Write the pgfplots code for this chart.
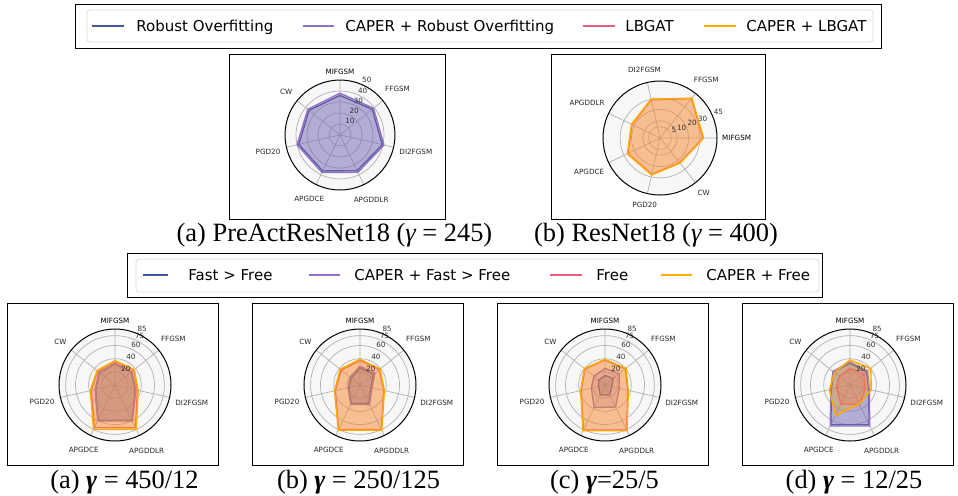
\documentclass[border=0pt]{standalone}
\usepackage{pgfplots}
\pgfplotsset{compat=1.18}
\usepgfplotslibrary{polar}
\usepackage{fontspec}
\setmainfont{Liberation Serif}
\newfontfamily\dejavu{DejaVu Sans}
\definecolor{cblue}{RGB}{70,88,155}
\definecolor{cpurple}{RGB}{148,112,196}
\definecolor{cpink}{RGB}{238,90,120}
\definecolor{corange}{RGB}{255,170,0}
\newcommand{\tinyf}{\dejavu\fontsize{3.6}{4.2}\selectfont}
\newcommand{\legf}{\dejavu\fontsize{7.5}{9}\selectfont}
\newcommand{\capf}{\fontsize{13.2}{15}\selectfont}
\newcommand{\rl}[3]{\node[font=\tinyf, text=black!80, anchor=south west, inner sep=0.4pt] at (axis cs:#1,#2) {#3};}
\pgfplotsset{
  radarbase/.style={
    scale only axis, anchor=center, clip=false,
    axis background/.style={fill=black!3},
    axis line style={black, line width=0.5pt},
    y axis line style={draw=none},
    grid=major, major grid style={black!30, line width=0.35pt},
    tick style={draw=none},
    yticklabels={},
    xticklabel style={font=\tinyf, text=black!85, inner sep=2.4pt},
  },
  radarCW/.style={radarbase,
    xtick={38.571,90,141.429,192.857,244.286,295.714,347.143},
    xticklabels={FFGSM,\textcolor{black}{MIFGSM},CW,PGD20,APGDCE,APGDDLR,DI2FGSM}},
  poly/.style={line width=0.7pt, fill opacity=0.3, draw opacity=1},
}
\begin{document}
\begin{tikzpicture}
\useasboundingbox (0pt,0pt) rectangle (479pt,-247.5pt);

% ---------- top legend ----------
\draw[line width=0.5pt] (37.5pt,-2pt) rectangle (440.5pt,-24pt);
\draw[black!15, rounded corners=1.5pt] (43.5pt,-5pt) rectangle (436.5pt,-21pt);
\draw[cblue, line width=0.75pt] (46pt,-13pt) -- (62pt,-13pt);
\node[font=\legf, anchor=base west, inner sep=0] at (68pt,-15.5pt) {Robust Overfitting};
\draw[cpurple, line width=0.75pt] (151.5pt,-13pt) -- (167pt,-13pt);
\node[font=\legf, anchor=base west, inner sep=0] at (172.5pt,-15.5pt) {CAPER + Robust Overfitting};
\draw[cpink, line width=0.75pt] (291.5pt,-13pt) -- (307.5pt,-13pt);
\node[font=\legf, anchor=base west, inner sep=0] at (312.5pt,-15.5pt) {LBGAT};
\draw[corange, line width=0.75pt] (352pt,-13pt) -- (368pt,-13pt);
\node[font=\legf, anchor=base west, inner sep=0] at (373pt,-15.5pt) {CAPER + LBGAT};

% ---------- top panels ----------
\draw[line width=0.5pt] (114.5pt,-27pt) rectangle (222.5pt,-109.5pt);
\draw[line width=0.5pt] (275.5pt,-27pt) rectangle (382.5pt,-109.5pt);

\begin{polaraxis}[radarCW, at={(170pt,-67.5pt)}, width=55pt, height=55pt,
  ymin=0, ymax=50, ytick={10,20,30,40}]
\addplot[poly, draw=cblue, fill=cblue] coordinates {(90,36) (38.571,37.5) (347.143,39.5) (295.714,36) (244.286,36.3) (192.857,38.5) (141.429,36) (90,36)};
\addplot[poly, draw=cpurple, fill=cpurple] coordinates {(90,38) (38.571,39) (347.143,41) (295.714,37.6) (244.286,37.8) (192.857,40) (141.429,37.5) (90,38)};
\rl{67.5}{10}{10}\rl{67.5}{20}{20}\rl{67.5}{30}{30}\rl{67.5}{40}{40}\rl{67.5}{50}{50}
\end{polaraxis}

\begin{polaraxis}[radarbase, at={(330pt,-69pt)}, width=57pt, height=57pt,
  ymin=0, ymax=50, ytick={10,15,25,35},
  xtick={0,51.429,102.857,154.286,205.714,257.143,308.571},
  xticklabels={\textcolor{black}{MIFGSM},FFGSM,DI2FGSM,APGDDLR,APGDCE,PGD20,CW},
  y filter/.expression={y+5}]
\addplot[poly, draw=cpink, fill=cpink] coordinates {(0,32.8) (51.429,39.2) (102.857,29.4) (154.286,22.3) (205.714,26.3) (257.143,27.7) (308.571,22.7) (0,32.8)};
\addplot[poly, draw=corange, fill=corange] coordinates {(0,33.3) (51.429,39.7) (102.857,29.9) (154.286,22.8) (205.714,26.8) (257.143,28.2) (308.571,23.2) (0,33.3)};
\rl{22.5}{10}{5}\rl{22.5}{15}{10}\rl{22.5}{25}{20}\rl{22.5}{35}{30}\rl{22.5}{50}{45}
\end{polaraxis}

\node[font=\capf, anchor=base] at (167.25pt,-120.5pt) {(a) PreActResNet18 ({\itshape γ} = 245)};
\node[font=\capf, anchor=base] at (328pt,-120.5pt) {(b) ResNet18 ({\itshape γ} = 400)};

% ---------- bottom legend ----------
\draw[line width=0.5pt] (63.5pt,-126.5pt) rectangle (411pt,-148.5pt);
\draw[black!15, rounded corners=1.5pt] (68pt,-129.5pt) rectangle (409.5pt,-146pt);
\draw[cblue, line width=0.75pt] (71.5pt,-137.5pt) -- (84pt,-137.5pt);
\node[font=\legf, anchor=base west, inner sep=0] at (94pt,-140pt) {Fast > Free};
\draw[cpurple, line width=0.75pt] (154.5pt,-137.5pt) -- (170pt,-137.5pt);
\node[font=\legf, anchor=base west, inner sep=0] at (177pt,-140pt) {CAPER + Fast > Free};
\draw[cpink, line width=0.75pt] (275pt,-137.5pt) -- (291pt,-137.5pt);
\node[font=\legf, anchor=base west, inner sep=0] at (298pt,-140pt) {Free};
\draw[corange, line width=0.75pt] (330.5pt,-137.5pt) -- (346pt,-137.5pt);
\node[font=\legf, anchor=base west, inner sep=0] at (353pt,-140pt) {CAPER + Free};

% ---------- bottom panels ----------
\draw[line width=0.5pt] (3.5pt,-151.5pt) rectangle (109pt,-232.5pt);
\draw[line width=0.5pt] (126pt,-151.5pt) rectangle (231.5pt,-232.5pt);
\draw[line width=0.5pt] (248.5pt,-151.5pt) rectangle (354pt,-232.5pt);
\draw[line width=0.5pt] (371pt,-151.5pt) rectangle (476.5pt,-232.5pt);

% (a) 450/12
\begin{polaraxis}[radarCW, at={(57.5pt,-192.5pt)}, width=56pt, height=56pt,
  ymin=0, ymax=85, ytick={20,40,60,75}]
\addplot[poly, draw=cblue, fill=cblue] coordinates {(90,32) (38.571,31.5) (347.143,31.5) (295.714,59.5) (244.286,59.5) (192.857,30) (141.429,30) (90,32)};
\addplot[poly, draw=cpurple, fill=cpurple] coordinates {(90,33) (38.571,32.4) (347.143,32.5) (295.714,60.4) (244.286,60.4) (192.857,31) (141.429,31) (90,33)};
\addplot[poly, draw=cpink, fill=cpink] coordinates {(90,36) (38.571,36.5) (347.143,35) (295.714,72) (244.286,72) (192.857,37) (141.429,34) (90,36)};
\addplot[poly, draw=corange, fill=corange] coordinates {(90,37) (38.571,37.5) (347.143,36) (295.714,74.5) (244.286,75) (192.857,38.4) (141.429,35) (90,37)};
\rl{67.5}{20}{20}\rl{67.5}{40}{40}\rl{67.5}{60}{60}\rl{67.5}{75}{75}\rl{67.5}{85}{85}
\end{polaraxis}

% (b) 250/125
\begin{polaraxis}[radarCW, at={(180pt,-192.5pt)}, width=56pt, height=56pt,
  ymin=0, ymax=85, ytick={20,40,60,75}]
\addplot[poly, draw=cblue, fill=cblue] coordinates {(90,26) (38.571,26) (347.143,17) (295.714,31) (244.286,31) (192.857,17) (141.429,17) (90,26)};
\addplot[poly, draw=cpurple, fill=cpurple] coordinates {(90,28.5) (38.571,29) (347.143,18.5) (295.714,33) (244.286,32.5) (192.857,18.5) (141.429,19) (90,28.5)};
\addplot[poly, draw=cpink, fill=cpink] coordinates {(90,37.5) (38.571,37.5) (347.143,37) (295.714,75) (244.286,75) (192.857,38.5) (141.429,36.5) (90,37.5)};
\addplot[poly, draw=corange, fill=corange] coordinates {(90,39) (38.571,39) (347.143,38) (295.714,76) (244.286,76) (192.857,39.7) (141.429,38.5) (90,39)};
\rl{67.5}{20}{20}\rl{67.5}{40}{40}\rl{67.5}{60}{60}\rl{67.5}{75}{75}\rl{67.5}{85}{85}
\end{polaraxis}

% (c) 25/5
\begin{polaraxis}[radarCW, at={(302.5pt,-192.5pt)}, width=56pt, height=56pt,
  ymin=0, ymax=85, ytick={20,40,60,75}]
\addplot[poly, draw=cblue, fill=cblue] coordinates {(90,14.5) (38.571,16) (347.143,10.5) (295.714,16.5) (244.286,16.5) (192.857,10) (141.429,12) (90,14.5)};
\addplot[poly, draw=cpurple, fill=cpurple] coordinates {(90,25.3) (38.571,27.3) (347.143,22.3) (295.714,37) (244.286,38) (192.857,21.3) (141.429,21.5) (90,25.3)};
\addplot[poly, draw=cpink, fill=cpink] coordinates {(90,38) (38.571,39.5) (347.143,35.5) (295.714,76) (244.286,76) (192.857,37) (141.429,39) (90,38)};
\addplot[poly, draw=corange, fill=corange] coordinates {(90,39) (38.571,40.7) (347.143,36.3) (295.714,77) (244.286,77) (192.857,38) (141.429,40) (90,39)};
\rl{67.5}{20}{20}\rl{67.5}{40}{40}\rl{67.5}{60}{60}\rl{67.5}{75}{75}\rl{67.5}{85}{85}
\end{polaraxis}

% (d) 12/25
\begin{polaraxis}[radarCW, at={(425pt,-192.5pt)}, width=56pt, height=56pt,
  ymin=0, ymax=85, ytick={20,40,60,75}]
\addplot[poly, draw=cblue, fill=cblue] coordinates {(90,33) (38.571,32) (347.143,29) (295.714,67) (244.286,67) (192.857,29) (141.429,32) (90,33)};
\addplot[poly, draw=cpurple, fill=cpurple] coordinates {(90,35) (38.571,34) (347.143,30) (295.714,69) (244.286,69) (192.857,30) (141.429,33) (90,35)};
\addplot[poly, draw=cpink, fill=cpink] coordinates {(90,25) (38.571,27) (347.143,24) (295.714,33) (244.286,31.7) (192.857,21) (141.429,21) (90,25)};
\addplot[poly, draw=corange, fill=corange] coordinates {(90,38) (38.571,40.5) (347.143,33) (295.714,32) (244.286,51) (192.857,32) (141.429,30.5) (90,38)};
\rl{67.5}{20}{20}\rl{67.5}{40}{40}\rl{67.5}{60}{60}\rl{67.5}{75}{75}\rl{67.5}{85}{85}
\end{polaraxis}

\node[font=\capf, anchor=base] at (62.25pt,-244pt) {(a) {\bfseries\itshape γ} = 450/12};
\node[font=\capf, anchor=base] at (179.25pt,-244pt) {(b) {\bfseries\itshape γ} = 250/125};
\node[font=\capf, anchor=base] at (302.25pt,-244pt) {(c) {\bfseries\itshape γ}=25/5};
\node[font=\capf, anchor=base] at (427pt,-244pt) {(d) {\bfseries\itshape γ} = 12/25};
\end{tikzpicture}
\end{document}
